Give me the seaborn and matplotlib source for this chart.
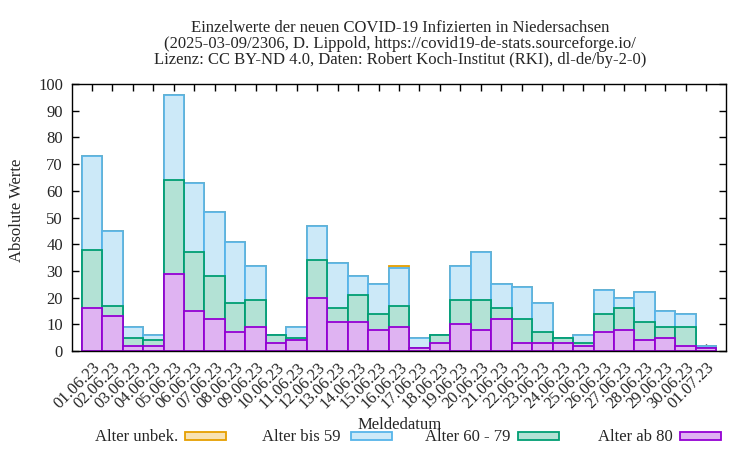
import matplotlib
matplotlib.use("Agg")
import matplotlib.pyplot as plt
import seaborn as sns
import pandas as pd
import numpy as np
from matplotlib.patches import Rectangle

dates = ["01.06.23", "02.06.23", "03.06.23", "04.06.23", "05.06.23", "06.06.23",
         "07.06.23", "08.06.23", "09.06.23", "10.06.23", "11.06.23", "12.06.23",
         "13.06.23", "14.06.23", "15.06.23", "16.06.23", "17.06.23", "18.06.23",
         "19.06.23", "20.06.23", "21.06.23", "22.06.23", "23.06.23", "24.06.23",
         "25.06.23", "26.06.23", "27.06.23", "28.06.23", "29.06.23", "30.06.23",
         "01.07.23"]
alter_ab_80 = [16, 13, 2, 2, 29, 15, 12, 7, 9, 3, 4, 20, 11, 11, 8, 9, 1, 3, 10, 8,
               12, 3, 3, 3, 2, 7, 8, 4, 5, 2, 1]
alter_60_79 = [22, 4, 3, 2, 35, 22, 16, 11, 10, 3, 1, 14, 5, 10, 6, 8, 0, 3, 9, 11,
               4, 9, 4, 2, 1, 7, 8, 7, 4, 7, 0]
alter_bis_59 = [35, 28, 4, 2, 32, 26, 24, 23, 13, 0, 4, 13, 17, 7, 11, 14, 4, 0, 13, 18,
                9, 12, 11, 0, 3, 9, 4, 11, 6, 5, 1]
alter_unbek = [0, 0, 0, 0, 0, 0, 0, 0, 0, 0, 0, 0, 0, 0, 0, 1, 0, 0, 0, 0,
               0, 0, 0, 0, 0, 0, 0, 0, 0, 0, 0]
labels = ["Alter unbek.", "Alter bis 59", "Alter 60 - 79", "Alter ab 80"]
yticks = list(range(0, 101, 10))

def light(hexcol, a=0.3):
    c = np.array(matplotlib.colors.to_rgb(hexcol))
    return tuple(1 - a * (1 - c))

edges = ["#e69f00", "#56b4e9", "#009e73", "#9400d3"]
fills = [light(c) for c in edges]

sns.set_theme(style="ticks")
plt.rcParams["font.family"] = ["Liberation Serif", "DejaVu Serif"]

p80 = np.array(alter_ab_80)
p60 = p80 + np.array(alter_60_79)
p59 = p60 + np.array(alter_bis_59)
pun = p59 + np.array(alter_unbek)
cums = [pun, p59, p60, p80]

L, R, T, B = 72, 726, 84, 351
fig = plt.figure(figsize=(7.5, 4.5), dpi=100)
ax = fig.add_axes([L/750, 1 - B/450, (R - L)/750, (B - T)/450])

for cum, f, e in zip(cums, fills, edges):
    df = pd.DataFrame({"Meldedatum": dates, "Wert": cum})
    sns.barplot(data=df, x="Meldedatum", y="Wert", color=f, edgecolor=e,
                linewidth=1.3, width=1.0, saturation=1, ax=ax, errorbar=None)

ax.set_xlim(-0.97, 30.97)
ax.set_ylim(0, 100)
ax.set_yticks(yticks)
ax.set_yticklabels([str(v) for v in yticks], fontsize=12)
ax.set_xticks(range(len(dates)))
ax.set_xticklabels(dates, rotation=45, ha="right", va="top",
                   rotation_mode="anchor", fontsize=12)
ax.tick_params(direction="in", top=True, right=True, length=5, width=1,
               color="black")
ax.tick_params(axis="y", pad=6.5)
ax.tick_params(axis="x", pad=6)
for s in ax.spines.values():
    s.set_color("black")
    s.set_linewidth(1.0)
ax.set_xlabel("Meldedatum", fontsize=12)
ax.xaxis.set_label_coords((400 - L) / (R - L), (B - 417) / (B - T))
ax.set_ylabel("Absolute Werte", fontsize=12)
ax.yaxis.set_label_coords((25 - L) / (R - L), (B - 210) / (B - T))

fig.text(400/750, 1 - 20/450,
         "Einzelwerte der neuen COVID-19 Infizierten in Niedersachsen\n"
         "(2025-03-09/2306, D. Lippold, https://covid19-de-stats.sourceforge.io/\n"
         "Lizenz: CC BY-ND 4.0, Daten: Robert Koch-Institut (RKI), dl-de/by-2-0)",
         ha="center", va="top", fontsize=12, linespacing=1.0)

text_right = [178, 340, 510, 673]
sw_left = [185, 351, 518, 680]
for lab, tr, sl, f, e in zip(labels, text_right, sw_left, fills, edges):
    fig.text(tr/750, 1 - 437/450, lab, ha="right", va="center", fontsize=12)
    fig.add_artist(Rectangle((sl/750, 1 - 440/450), 41/750, 8/450,
                             transform=fig.transFigure, facecolor=f,
                             edgecolor=e, linewidth=1.3))

fig.savefig("out.png", dpi=100)
